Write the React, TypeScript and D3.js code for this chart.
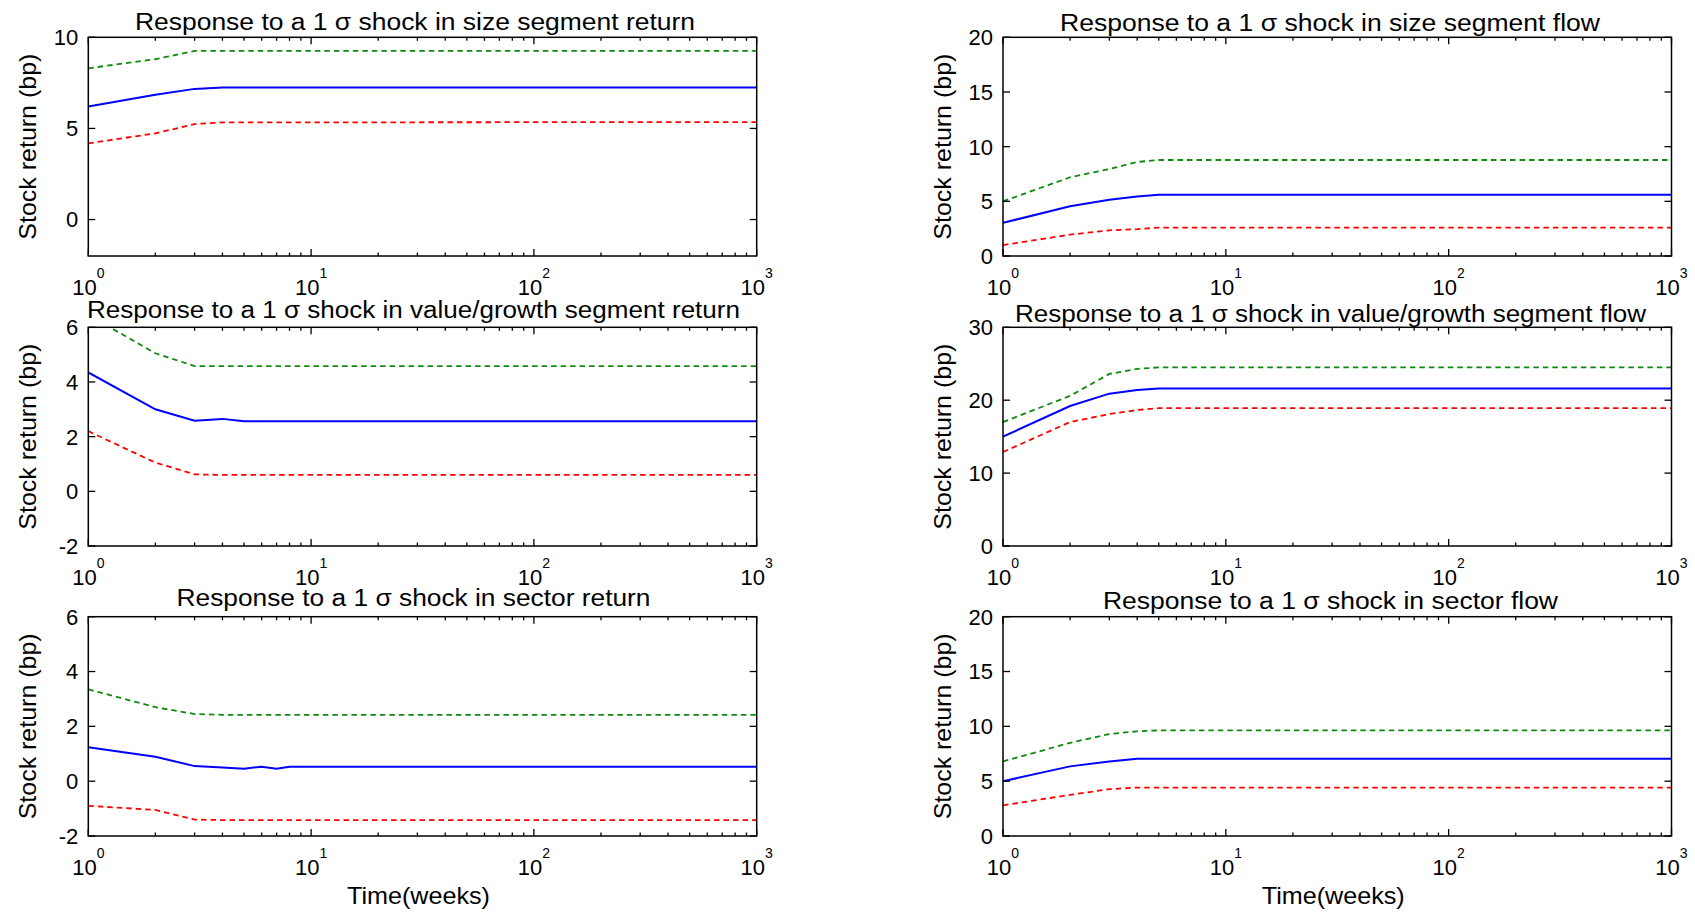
import React from "react";
import * as d3 from "d3";

// ---------- data ----------
const titles = [
  "Response to a 1 \u03c3 shock in size segment return",
  "Response to a 1 \u03c3 shock in size segment flow",
  "Response to a 1 \u03c3 shock in value/growth segment return",
  "Response to a 1 \u03c3 shock in value/growth segment flow",
  "Response to a 1 \u03c3 shock in sector return",
  "Response to a 1 \u03c3 shock in sector flow",
];
const yLabel = "Stock return (bp)";
const xLabel = "Time(weeks)";
const xTickValues = [1, 10, 100, 1000];
const xTickExponents = ["0", "1", "2", "3"];

// size segment return
const sizeRetWeeks = [1, 2, 3, 4, 1000];
const sizeRetUpper = [8.3, 8.8, 9.25, 9.25, 9.25];
const sizeRetMid = [6.2, 6.85, 7.17, 7.25, 7.25];
const sizeRetLower = [4.18, 4.73, 5.24, 5.33, 5.35];
const sizeRetDomain = [-2, 10];
const sizeRetTicks = [0, 5, 10];

// size segment flow
const sizeFlowWeeks = [1, 2, 3, 4, 5, 1000];
const sizeFlowUpper = [5.0, 7.2, 7.95, 8.6, 8.78, 8.78];
const sizeFlowMid = [3.03, 4.55, 5.15, 5.45, 5.6, 5.6];
const sizeFlowLower = [1.0, 1.95, 2.35, 2.45, 2.6, 2.6];
const sizeFlowDomain = [0, 20];
const sizeFlowTicks = [0, 5, 10, 15, 20];

// value/growth segment return
const vgRetWeeks = [1, 2, 3, 4, 5, 1000];
const vgRetUpper = [6.45, 5.05, 4.58, 4.58, 4.58, 4.58];
const vgRetMid = [4.35, 3.0, 2.58, 2.65, 2.56, 2.56];
const vgRetLower = [2.2, 1.05, 0.62, 0.6, 0.6, 0.6];
const vgRetDomain = [-2, 6];
const vgRetTicks = [-2, 0, 2, 4, 6];

// value/growth segment flow
const vgFlowWeeks = [1, 2, 3, 4, 5, 1000];
const vgFlowUpper = [17.0, 20.6, 23.6, 24.3, 24.5, 24.5];
const vgFlowMid = [15.0, 19.2, 20.9, 21.4, 21.6, 21.6];
const vgFlowLower = [12.9, 17.0, 18.1, 18.65, 18.9, 18.9];
const vgFlowDomain = [0, 30];
const vgFlowTicks = [0, 10, 20, 30];

// sector return
const secRetWeeks = [1, 2, 3, 4, 5, 6, 7, 8, 1000];
const secRetUpper = [3.35, 2.7, 2.45, 2.42, 2.42, 2.42, 2.42, 2.42, 2.42];
const secRetMid = [1.24, 0.89, 0.55, 0.5, 0.45, 0.53, 0.45, 0.53, 0.53];
const secRetLower = [-0.9, -1.05, -1.4, -1.42, -1.42, -1.42, -1.42, -1.42, -1.42];
const secRetDomain = [-2, 6];
const secRetTicks = [-2, 0, 2, 4, 6];

// sector flow
const secFlowWeeks = [1, 2, 3, 4, 5, 1000];
const secFlowUpper = [6.8, 8.5, 9.3, 9.55, 9.63, 9.63];
const secFlowMid = [5.0, 6.35, 6.8, 7.05, 7.05, 7.05];
const secFlowLower = [2.8, 3.75, 4.27, 4.42, 4.42, 4.42];
const secFlowDomain = [0, 20];
const secFlowTicks = [0, 5, 10, 15, 20];

const panels = [
  { title: titles[0], weeks: sizeRetWeeks, upper: sizeRetUpper, mid: sizeRetMid, lower: sizeRetLower, domain: sizeRetDomain, ticks: sizeRetTicks },
  { title: titles[1], weeks: sizeFlowWeeks, upper: sizeFlowUpper, mid: sizeFlowMid, lower: sizeFlowLower, domain: sizeFlowDomain, ticks: sizeFlowTicks },
  { title: titles[2], weeks: vgRetWeeks, upper: vgRetUpper, mid: vgRetMid, lower: vgRetLower, domain: vgRetDomain, ticks: vgRetTicks },
  { title: titles[3], weeks: vgFlowWeeks, upper: vgFlowUpper, mid: vgFlowMid, lower: vgFlowLower, domain: vgFlowDomain, ticks: vgFlowTicks },
  { title: titles[4], weeks: secRetWeeks, upper: secRetUpper, mid: secRetMid, lower: secRetLower, domain: secRetDomain, ticks: secRetTicks },
  { title: titles[5], weeks: secFlowWeeks, upper: secFlowUpper, mid: secFlowMid, lower: secFlowLower, domain: secFlowDomain, ticks: secFlowTicks },
];

// ---------- layout ----------
const W = 1695;
const H = 913;
const colX = [[88.3, 756.7], [1003, 1671.5]];
const rowY = [[37.3, 256], [327.3, 546], [616.7, 836]];
const titleLayout = [
  { x: 135, y: 30, len: 560 },
  { x: 1060, y: 30.5, len: 540 },
  { x: 87, y: 317.5, len: 653 },
  { x: 1015, y: 321.5, len: 631 },
  { x: 176.5, y: 606, len: 474 },
  { x: 1103, y: 609, len: 455 },
];
const FONT = "'Liberation Sans', Arial, sans-serif";
const GREEN = "#0f8a0f";
const BLUE = "#0000ff";
const RED = "#ff0000";

const minorTicks: number[] = [];
for (let e = 0; e < 3; e++) {
  for (let m = 2; m <= 9; m++) minorTicks.push(m * Math.pow(10, e));
}

function Panel({ p, i }: { p: any; i: number }) {
  const col = i % 2;
  const row = Math.floor(i / 2);
  const [x0, x1] = colX[col];
  const [y0, y1] = rowY[row];
  const x = d3.scaleLog().domain([1, 1000]).range([x0, x1]);
  const y = d3.scaleLinear().domain(p.domain).range([y1, y0]);
  const mk = (vals: number[]) =>
    d3
      .line<number>()
      .x((_, k) => x(p.weeks[k]))
      .y((v) => y(v))(vals) as string;
  const clipId = `clip${i}`;
  const tl = titleLayout[i];
  const majorLen = 7;
  const minorLen = 3.5;
  const tickStroke = "#000";
  return (
    <g>
      <defs>
        <clipPath id={clipId}>
          <rect x={x0} y={y0} width={x1 - x0} height={y1 - y0} />
        </clipPath>
      </defs>
      <rect x={x0} y={y0} width={x1 - x0} height={y1 - y0} fill="#fff" />
      <g clipPath={`url(#${clipId})`} fill="none">
        <path d={mk(p.upper)} stroke={GREEN} strokeWidth={1.8} strokeDasharray="5.5,4" />
        <path d={mk(p.lower)} stroke={RED} strokeWidth={1.8} strokeDasharray="5.5,4" />
        <path d={mk(p.mid)} stroke={BLUE} strokeWidth={2} />
      </g>
      {/* frame */}
      <rect x={x0} y={y0} width={x1 - x0} height={y1 - y0} fill="none" stroke="#000" strokeWidth={1.5} />
      {/* x ticks */}
      {xTickValues.map((t) => (
        <g key={"M" + t}>
          <line x1={x(t)} x2={x(t)} y1={y1} y2={y1 - majorLen} stroke={tickStroke} strokeWidth={1.3} />
          <line x1={x(t)} x2={x(t)} y1={y0} y2={y0 + majorLen} stroke={tickStroke} strokeWidth={1.3} />
        </g>
      ))}
      {minorTicks.map((t) => (
        <g key={"m" + t}>
          <line x1={x(t)} x2={x(t)} y1={y1} y2={y1 - minorLen} stroke={tickStroke} strokeWidth={1.3} />
          <line x1={x(t)} x2={x(t)} y1={y0} y2={y0 + minorLen} stroke={tickStroke} strokeWidth={1.3} />
        </g>
      ))}
      {/* y ticks */}
      {p.ticks.map((t: number) => (
        <g key={"y" + t}>
          <line x1={x0} x2={x0 + majorLen} y1={y(t)} y2={y(t)} stroke={tickStroke} strokeWidth={1.3} />
          <line x1={x1} x2={x1 - majorLen} y1={y(t)} y2={y(t)} stroke={tickStroke} strokeWidth={1.3} />
          <text x={x0 - 10} y={y(t)} dy="0.36em" textAnchor="end" fontSize={22} fontFamily={FONT}>
            {t}
          </text>
        </g>
      ))}
      {/* x tick labels */}
      {xTickValues.map((t, k) => (
        <text key={"xl" + t} x={x(t)} y={y1 + 39} textAnchor="middle" fontSize={22} fontFamily={FONT}>
          10
          <tspan dy={-17} fontSize={14}>
            {xTickExponents[k]}
          </tspan>
        </text>
      ))}
      {/* title */}
      <text x={tl.x} y={tl.y} fontSize={23} fontFamily={FONT} textLength={tl.len} lengthAdjust="spacingAndGlyphs">
        {p.title}
      </text>
      {/* y label */}
      <text
        transform={`translate(${x0 - 52},${(y0 + y1) / 2}) rotate(-90)`}
        textAnchor="middle"
        fontSize={24}
        fontFamily={FONT}
        textLength={186}
        lengthAdjust="spacingAndGlyphs"
      >
        {yLabel}
      </text>
      {row === 2 && (
        <text
          x={(x0 + x1) / 2 - 4}
          y={904}
          textAnchor="middle"
          fontSize={24}
          fontFamily={FONT}
          textLength={143}
          lengthAdjust="spacingAndGlyphs"
        >
          {xLabel}
        </text>
      )}
    </g>
  );
}

export default function App() {
  return (
    <svg
      width={W}
      height={H}
      viewBox={`0 0 ${W} ${H}`}
      style={{ position: "absolute", left: 0, top: 0, background: "#fff" }}
    >
      <rect x={0} y={0} width={W} height={H} fill="#fff" />
      {panels.map((p, i) => (
        <Panel key={i} p={p} i={i} />
      ))}
    </svg>
  );
}
